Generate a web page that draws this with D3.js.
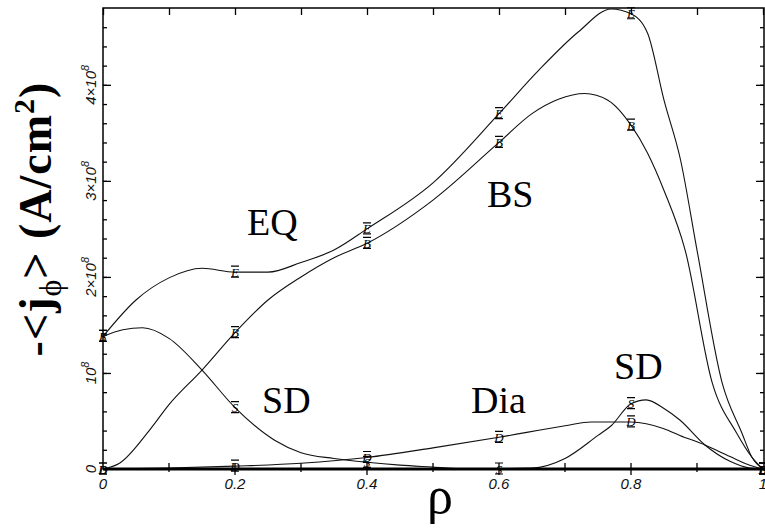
<!DOCTYPE html>
<html>
<head>
<meta charset="utf-8">
<script src="https://cdn.jsdelivr.net/npm/d3@7"></script>
<style>
  body { margin: 0; background: #fff; }
  svg { display: block; }
  .serif { font-family: "Liberation Serif", "Times New Roman", Times, serif; }
  .sans { font-family: "Liberation Sans", Arial, sans-serif; }
</style>
</head>
<body>
<div id="vis"></div>
<script>
const FRAME_WIDTH = 765;
const FRAME_HEIGHT = 529;
const PLOT = {left: 103, right: 763, top: 8, bottom: 469};

// values, in units of 1e8 A/cm2
const eqX  = [0, 0.05, 0.1, 0.15, 0.2, 0.25, 0.3, 0.35, 0.4, 0.5, 0.6, 0.66, 0.72, 0.77, 0.8, 0.825, 0.85, 0.875, 0.9, 0.938, 0.968, 0.983, 1];
const eqY  = [1.38, 1.76, 1.99, 2.09, 2.05, 2.05, 2.15, 2.28, 2.5, 2.98, 3.7, 4.15, 4.55, 4.79, 4.74, 4.54, 3.84, 3.22, 2.28, 0.9, 0.375, 0.125, 0];
const bsX  = [0, 0.025, 0.07, 0.1, 0.15, 0.2, 0.25, 0.3, 0.35, 0.4, 0.5, 0.6, 0.65, 0.69, 0.73, 0.765, 0.8, 0.825, 0.85, 0.882, 0.923, 0.96, 0.983, 1];
const bsY  = [0, 0.06, 0.4, 0.67, 1.03, 1.42, 1.76, 2.0, 2.2, 2.35, 2.8, 3.4, 3.7, 3.85, 3.91, 3.84, 3.58, 3.29, 2.9, 2.28, 0.9, 0.375, 0.125, 0];
const sdX  = [0, 0.03, 0.06, 0.1, 0.15, 0.2, 0.26, 0.3, 0.35, 0.4, 0.45, 0.5, 0.55, 0.65, 0.7, 0.75, 0.77, 0.8, 0.823, 0.85, 0.874, 0.912, 0.95, 0.98, 1];
const sdY  = [1.38, 1.45, 1.47, 1.36, 1.03, 0.64, 0.3, 0.17, 0.11, 0.07, 0.04, 0.02, 0, 0.01, 0.11, 0.35, 0.45, 0.68, 0.72, 0.63, 0.51, 0.25, 0.08, 0.01, 0];
const diaX = [0, 0.1, 0.2, 0.3, 0.4, 0.5, 0.6, 0.7, 0.74, 0.8, 0.85, 0.874, 0.912, 0.95, 0.98, 1];
const diaY = [0, 0.01, 0.03, 0.06, 0.12, 0.22, 0.33, 0.45, 0.49, 0.49, 0.42, 0.35, 0.25, 0.13, 0.04, 0];

// marker letters at rho = 0, 0.2, ... 1
const markX = [0, 0.2, 0.4, 0.6, 0.8, 1];
const eqMark  = [1.38, 2.05, 2.5, 3.7, 4.74, 0];
const bsMark  = [0, 1.42, 2.35, 3.4, 3.58, 0];
const sdMark  = [1.38, 0.64, 0.07, 0, 0.68, 0];
const diaMark = [0, 0.03, 0.12, 0.33, 0.49, 0];

const xTickLabels = ["0", "0.2", "0.4", "0.6", "0.8", "1"];
const yTickValues = [0, 1, 2, 3, 4];
const yTickLabels = [["0", ""], ["10", "8"], ["2×10", "8"], ["3×10", "8"], ["4×10", "8"]];

const labels = [
  {text: "EQ",  x: 247, y: 235},
  {text: "BS",  x: 487, y: 207},
  {text: "SD",  x: 262, y: 413},
  {text: "Dia", x: 471, y: 413},
  {text: "SD",  x: 614, y: 379}
];

const svg = d3.select("#vis")
  .append("svg")
    .attr("width", FRAME_WIDTH)
    .attr("height", FRAME_HEIGHT);

const X = d3.scaleLinear().domain([0, 1]).range([PLOT.left, PLOT.right]);
const Y = d3.scaleLinear().domain([0, 4.8]).range([PLOT.bottom, PLOT.top]);

svg.append("clipPath").attr("id", "clip")
  .append("rect")
    .attr("x", PLOT.left).attr("y", PLOT.top - 1)
    .attr("width", PLOT.right - PLOT.left + 2)
    .attr("height", PLOT.bottom - PLOT.top + 2);

// frame
svg.append("path")
  .attr("d", `M${PLOT.left},${PLOT.bottom}V${PLOT.top}H${PLOT.right + 1}V${PLOT.bottom}`)
  .attr("fill", "none")
  .attr("stroke", "#000")
  .attr("stroke-width", 1.5);

// left / right ticks (inside)
const yMinor = d3.range(0, 48, 2).map(d => d / 10);
svg.append("g")
  .attr("transform", `translate(${PLOT.left},0)`)
  .call(d3.axisLeft(Y).tickValues(yMinor).tickSize(-4).tickFormat(""))
  .call(g => g.select(".domain").remove());
svg.append("g")
  .attr("transform", `translate(${PLOT.left},0)`)
  .call(d3.axisLeft(Y).tickValues(yTickValues.slice(1)).tickSize(-8).tickFormat(""))
  .call(g => g.select(".domain").remove());
svg.append("g")
  .attr("transform", `translate(${PLOT.right + 1},0)`)
  .call(d3.axisRight(Y).tickValues(yMinor).tickSize(-4).tickFormat(""))
  .call(g => g.select(".domain").remove());
svg.append("g")
  .attr("transform", `translate(${PLOT.right + 1},0)`)
  .call(d3.axisRight(Y).tickValues(yTickValues.slice(1)).tickSize(-8).tickFormat(""))
  .call(g => g.select(".domain").remove());

// top ticks
svg.append("g")
  .attr("transform", `translate(0,${PLOT.top})`)
  .call(d3.axisTop(X).ticks(10).tickSize(-7).tickFormat(""))
  .call(g => g.select(".domain").remove());

svg.selectAll(".tick line").attr("stroke", "#000").attr("stroke-width", 1.3);

// bottom ticks crossing the thick axis
svg.append("g").selectAll("line")
  .data(d3.range(1, 10).map(d => d / 10))
  .join("line")
    .attr("x1", d => X(d)).attr("x2", d => X(d))
    .attr("y1", d => PLOT.bottom - 6)
    .attr("y2", d => PLOT.bottom + (Math.round(d * 10) % 2 === 0 ? 6 : 3))
    .attr("stroke", "#000")
    .attr("stroke-width", 1.3);

// y tick labels, rotated
svg.append("g").selectAll("text")
  .data(yTickValues)
  .join("text")
    .attr("class", "sans")
    .attr("transform", d => `translate(96,${Y(d)}) rotate(-90)`)
    .attr("text-anchor", "middle")
    .attr("font-style", "italic")
    .attr("font-size", 15)
    .attr("fill", "#111")
    .each(function(d, i) {
      const t = d3.select(this);
      t.append("tspan").text(yTickLabels[i][0]);
      if (yTickLabels[i][1]) {
        t.append("tspan").attr("dy", -7).attr("font-size", 11).text(yTickLabels[i][1]);
      }
    });

// x tick labels
svg.append("g").selectAll("text")
  .data(markX)
  .join("text")
    .attr("class", "sans")
    .attr("x", d => X(d))
    .attr("y", 489)
    .attr("text-anchor", "middle")
    .attr("font-style", "italic")
    .attr("font-size", 15)
    .attr("fill", "#111")
    .text((d, i) => xTickLabels[i]);

// curves
const line = d3.line()
  .x(d => X(d[0]))
  .y(d => Y(d[1]))
  .curve(d3.curveMonotoneX);

const series = [
  {xs: eqX, ys: eqY, marks: eqMark, letter: "E"},
  {xs: bsX, ys: bsY, marks: bsMark, letter: "B"},
  {xs: sdX, ys: sdY, marks: sdMark, letter: "S"},
  {xs: diaX, ys: diaY, marks: diaMark, letter: "D"}
];

const curves = svg.append("g").attr("clip-path", "url(#clip)");
series.forEach(s => {
  curves.append("path")
    .datum(s.xs.map((x, i) => [x, s.ys[i]]))
    .attr("d", line)
    .attr("fill", "none")
    .attr("stroke", "#111")
    .attr("stroke-width", 1.1);
});

// thick bottom axis
svg.append("line")
  .attr("x1", PLOT.left).attr("x2", PLOT.right + 2)
  .attr("y1", PLOT.bottom).attr("y2", PLOT.bottom)
  .attr("stroke", "#000")
  .attr("stroke-width", 3);

// point markers
series.forEach(s => {
  const g = svg.append("g").selectAll("g")
    .data(markX.map((x, i) => [x, s.marks[i]]))
    .join("g")
      .attr("transform", d => `translate(${X(d[0])},${Y(d[1])})`);
  g.append("path")
    .attr("d", "M-4,-6H4M-4,5H4")
    .attr("stroke", "#000")
    .attr("stroke-width", 1.2);
  g.append("text")
    .attr("class", "serif")
    .attr("y", 4.5)
    .attr("text-anchor", "middle")
    .attr("font-style", "italic")
    .attr("font-size", 13)
    .text(s.letter);
});

// curve labels
svg.append("g").selectAll("text")
  .data(labels)
  .join("text")
    .attr("class", "serif")
    .attr("x", d => d.x)
    .attr("y", d => d.y)
    .attr("font-size", 38)
    .text(d => d.text);

// axis titles
svg.append("text")
  .attr("class", "serif")
  .attr("x", 440)
  .attr("y", 513)
  .attr("text-anchor", "middle")
  .attr("font-size", 52)
  .text("ρ");

const yTitle = svg.append("text")
  .attr("class", "serif")
  .attr("transform", "translate(51,219) rotate(-90)")
  .attr("text-anchor", "middle")
  .attr("font-weight", "bold")
  .attr("letter-spacing", 1)
  .attr("font-size", 46);
yTitle.append("tspan").text("-<j");
yTitle.append("tspan").attr("font-size", 32).attr("font-weight", "normal").attr("dy", 10).text("ϕ");
yTitle.append("tspan").attr("dy", -10).text("> (A/cm");
yTitle.append("tspan").attr("font-size", 30).attr("dy", -17).text("2");
yTitle.append("tspan").attr("dy", 17).text(")");
</script>
</body>
</html>
